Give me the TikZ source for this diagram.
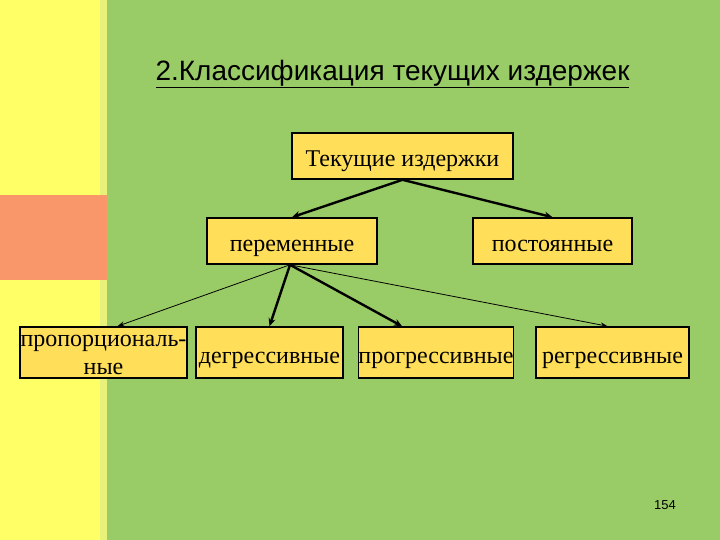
\documentclass[tikz,border=0pt]{standalone}
\usepackage{fontspec}
\setmainfont{Liberation Serif}
\newfontfamily\titlefont{Liberation Sans}
\usetikzlibrary{arrows.meta,calc}
\definecolor{bggreen}{HTML}{99CC66}
\definecolor{bgyellow}{HTML}{FFFF66}
\definecolor{bgpale}{HTML}{E8F27A}
\definecolor{bgorange}{HTML}{F9966A}
\definecolor{boxfill}{HTML}{FFDE59}
\tikzset{
  costbox/.style={draw=black, line width=1.6pt, fill=boxfill, inner sep=0pt,
    font=\fontsize{24}{28}\selectfont, align=center, text height=21pt, text depth=0pt},
  twoline/.style={text height=, text depth=},
  thickarrow/.style={line width=2.4pt, -{Stealth[length=8pt,width=7pt]}},
  thinarrow/.style={line width=0.8pt, -{Stealth[length=7pt,width=5pt]}}
}
\begin{document}
\begin{tikzpicture}[x=1pt,y=-1pt]
\useasboundingbox (0,0) rectangle (720,540);
% background
\fill[bggreen] (0,0) rectangle (720,540);
\fill[bgyellow] (0,0) rectangle (101,540);
\fill[bgpale] (100,0) rectangle (107,540);
\fill[bgorange] (0,195) rectangle (107,280);
% title
\node[font=\titlefont\fontsize{28}{32}\selectfont] (title) at (392.5,74) {\underline{2.Классификация текущих издержек}};
% boxes
\node[costbox, minimum width=221pt, minimum height=46pt] (T) at (402.5,156) {Текущие издержки};
\node[costbox, minimum width=170pt, minimum height=46pt] (P) at (292,241) {переменные};
\node[costbox, minimum width=159pt, minimum height=46pt] (C) at (552.5,241) {постоянные};
\node[costbox, twoline, minimum width=167pt, minimum height=51pt] (Pr) at (103.5,352.5) {\rule{0pt}{17pt}пропорциональ-\\ные};
\node[costbox, minimum width=147pt, minimum height=51pt] (D) at (269.5,352.5) {дегрессивные};
\node[costbox, minimum width=154pt, minimum height=51pt] (G) at (436,352.5) {прогрессивные};
\node[costbox, minimum width=153pt, minimum height=51pt] (R) at (612.5,352.5) {регрессивные};
% page number
\node[font=\titlefont\fontsize{13}{15}\selectfont] (num) at (665,505) {154};
% connectors
\coordinate (Ps) at ([xshift=-2pt]P.south);
\draw[thickarrow] (T.south) -- (P.north);
\draw[thickarrow] (T.south) -- (C.north);
\draw[thinarrow] (Ps) -- ([xshift=14pt]Pr.north);
\draw[thickarrow] (Ps) -- (D.north);
\draw[thickarrow] (Ps) -- ([xshift=-34pt]G.north);
\draw[thinarrow] (Ps) -- ([xshift=-5pt]R.north);
\end{tikzpicture}
\end{document}
